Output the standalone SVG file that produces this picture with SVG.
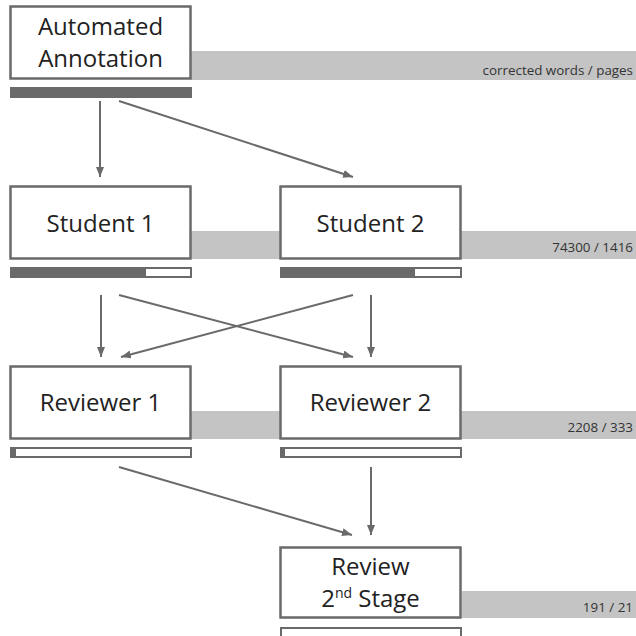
<svg xmlns="http://www.w3.org/2000/svg" width="636" height="636" viewBox="0 0 636 636">
<style>
.band{fill:#c4c4c4}
.box{fill:#fff;stroke:#6a6a6a;stroke-width:2.5}
.bar{fill:#fff;stroke:#6a6a6a;stroke-width:2}
.fill{fill:#6a6a6a}
.lbl{font-family:"Open Sans","Noto Sans",sans-serif;font-size:24px;fill:#222;text-anchor:middle}
.num{font-family:"Open Sans","Noto Sans",sans-serif;font-size:13.4px;fill:#333;text-anchor:end}
.conn line{stroke:#6a6a6a;stroke-width:2;marker-end:url(#ah)}
</style>
<defs>
<marker id="ah" viewBox="0 0 10 8" refX="10" refY="4" markerWidth="10" markerHeight="8" markerUnits="userSpaceOnUse" orient="auto">
<path d="M0,0 L10,4 L0,8 Z" fill="#6a6a6a"/>
</marker>
</defs>
<g id="bands">
<rect class="band" x="191" y="51" width="445" height="29"/>
<text class="num" x="633" y="75">corrected words / pages</text>
<rect class="band" x="191" y="231" width="445" height="28"/>
<text class="num" x="633" y="252">74300 / 1416</text>
<rect class="band" x="191" y="411" width="445" height="28"/>
<text class="num" x="633" y="432">2208 / 333</text>
<rect class="band" x="462" y="591" width="174" height="27"/>
<text class="num" x="633" y="612">191 / 21</text>
</g>
<g id="automated">
<rect class="box" x="10.5" y="6.5" width="180" height="72"/>
<text class="lbl" x="100.5" y="35">Automated</text>
<text class="lbl" x="100.5" y="67">Annotation</text>
<rect class="fill" x="10" y="87" width="182" height="11"/>
</g>
<g id="student1">
<rect class="box" x="10.5" y="186.5" width="180" height="72"/>
<text class="lbl" x="100.5" y="232">Student 1</text>
<rect class="bar" x="11" y="268" width="180" height="9"/>
<rect class="fill" x="10" y="267" width="136" height="11"/>
</g>
<g id="student2">
<rect class="box" x="280.5" y="186.5" width="180" height="72"/>
<text class="lbl" x="370.5" y="232">Student 2</text>
<rect class="bar" x="281" y="268" width="180" height="9"/>
<rect class="fill" x="280" y="267" width="135" height="11"/>
</g>
<g id="reviewer1">
<rect class="box" x="10.5" y="366.5" width="180" height="72"/>
<text class="lbl" x="100.5" y="411">Reviewer 1</text>
<rect class="bar" x="11" y="448" width="180" height="9"/>
<rect class="fill" x="10" y="447" width="6" height="11"/>
</g>
<g id="reviewer2">
<rect class="box" x="280.5" y="366.5" width="180" height="72"/>
<text class="lbl" x="370.5" y="411">Reviewer 2</text>
<rect class="bar" x="281" y="448" width="180" height="9"/>
<rect class="fill" x="280" y="447" width="5" height="11"/>
</g>
<g id="review2">
<rect class="box" x="280.5" y="547.5" width="180" height="70"/>
<text class="lbl" x="370.5" y="575">Review</text>
<text class="lbl" x="370.5" y="607">2<tspan font-size="14" dy="-9">nd</tspan><tspan dy="9"> Stage</tspan></text>
<rect class="bar" x="281" y="628" width="180" height="12"/>
</g>
<g id="connectors" class="conn">
<line x1="100" y1="101" x2="100" y2="177"/>
<line x1="119" y1="101" x2="353" y2="177"/>
<line x1="101" y1="295" x2="101" y2="357"/>
<line x1="119" y1="295" x2="353" y2="357"/>
<line x1="353" y1="295" x2="121" y2="357"/>
<line x1="371" y1="295" x2="371" y2="357"/>
<line x1="119" y1="467" x2="352" y2="535"/>
<line x1="371" y1="467" x2="371" y2="535"/>
</g>
</svg>
